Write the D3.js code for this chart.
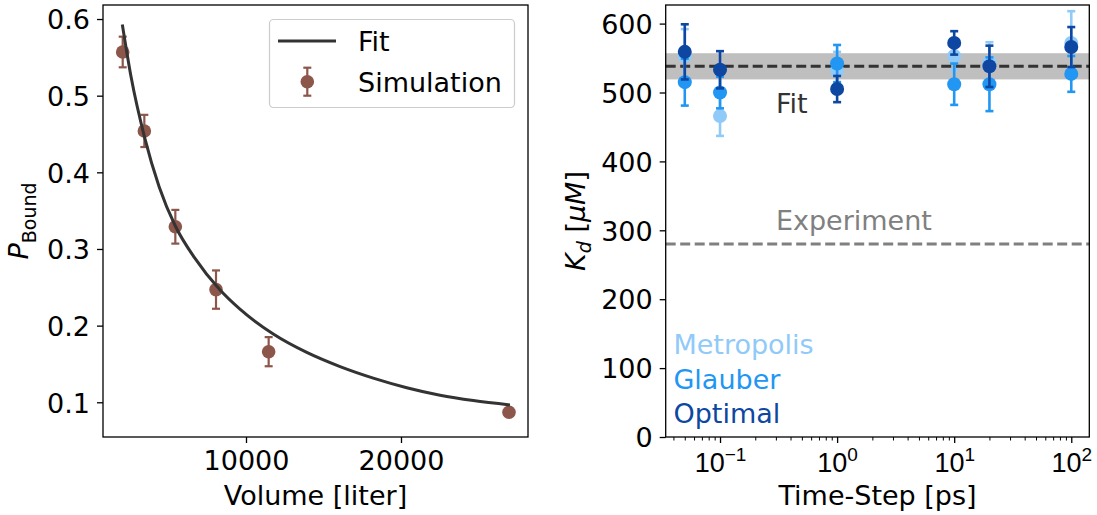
<!DOCTYPE html>
<html>
<head>
<meta charset="utf-8">
<script src="https://cdn.jsdelivr.net/npm/d3@7"></script>
<style>
  html, body { margin: 0; padding: 0; background: #fff; }
  svg { display: block; font-family: "DejaVu Sans", sans-serif; }
</style>
</head>
<body>
<svg id="chart" width="1097" height="515"></svg>
<script>
// ---- Left panel: binding probability vs. simulation volume ----
const volume     = [2045, 3441, 5441, 8065, 11462, 26968];
const pBound     = [0.557, 0.454, 0.329, 0.247, 0.166, 0.087];
const pBoundErr  = [0.020, 0.021, 0.022, 0.025, 0.019, 0.004];
const fitVolume  = [2020, 2600, 3440, 4400, 5440, 6700, 8300, 9610, 11760, 13920, 16070, 18210, 20370, 22520, 24670, 27030];
const fitPBound  = [0.593, 0.523, 0.447, 0.381, 0.330, 0.288, 0.247, 0.2214, 0.189, 0.165, 0.1465, 0.1315, 0.119, 0.1092, 0.1022, 0.0965];
const volumeTicks = [10000, 20000];
const pBoundTicks = [0.1, 0.2, 0.3, 0.4, 0.5, 0.6];

// ---- Right panel: dissociation constant vs. time step ----
const timeStep      = [0.05, 0.1, 1, 10, 20, 100];
const metropolisKd  = [553, 466, 532, 553, 544, 572];
const metropolisErr = [39, 29, 27, 20, 29, 46];
const glauberKd     = [515, 500, 542, 512, 512, 527];
const glauberErr    = [34, 23, 27, 30, 39, 26];
const optimalKd     = [559, 533, 505, 572, 538, 566];
const optimalErr    = [40, 27, 19, 17, 30, 29];
const kdFit = 538, kdFitErr = 19, kdExperiment = 280;
const kdTicks = [0, 100, 200, 300, 400, 500, 600];
const timeTicks = [0.1, 1, 10, 100];
const timeTickExp = ["\u22121", "0", "1", "2"];

const FS = 27, FS_SMALL = 19;
const svg = d3.select("#chart");

function frame(g, x0, x1, y0, y1) {
  g.append("rect").attr("x", x0).attr("y", y0)
    .attr("width", x1 - x0).attr("height", y1 - y0)
    .attr("fill", "none").attr("stroke", "#000").attr("stroke-width", 1.3);
}

function styleAxis(sel) {
  sel.select(".domain").remove();
  sel.selectAll(".tick line").attr("stroke", "#000").attr("stroke-width", 1.3);
  sel.selectAll(".tick text").attr("fill", "#000")
    .style("font-size", FS + "px").style("font-family", "DejaVu Sans");
}

function errorBars(g, xs, ys, es, x, y, color, cap, width) {
  const rows = xs.map((v, i) => ({ x: v, y: ys[i], e: es[i] }));
  const eb = g.append("g").attr("stroke", color).attr("stroke-width", width);
  eb.selectAll("line.v").data(rows).join("line").attr("class", "v")
    .attr("x1", d => x(d.x)).attr("x2", d => x(d.x))
    .attr("y1", d => y(d.y - d.e)).attr("y2", d => y(d.y + d.e));
  ["lo", "hi"].forEach(k => {
    eb.selectAll("line." + k).data(rows).join("line").attr("class", k)
      .attr("x1", d => x(d.x) - cap).attr("x2", d => x(d.x) + cap)
      .attr("y1", d => y(k === "lo" ? d.y - d.e : d.y + d.e))
      .attr("y2", d => y(k === "lo" ? d.y - d.e : d.y + d.e));
  });
  return rows;
}

// ================= Left panel =================
{
  const L = { x0: 103, x1: 528, y0: 5, y1: 437 };
  const x = d3.scaleLinear().domain([774, 28194]).range([L.x0, L.x1]);
  const y = d3.scaleLinear().domain([0.0547, 0.6183]).range([L.y1, L.y0]);
  const g = svg.append("g");
  const brown = "#8c564b";

  g.append("g").attr("transform", `translate(0,${L.y1})`)
    .call(d3.axisBottom(x).tickValues(volumeTicks).tickSize(6).tickPadding(8)
      .tickFormat(d3.format("d")))
    .call(styleAxis);
  g.append("g").attr("transform", `translate(${L.x0},0)`)
    .call(d3.axisLeft(y).tickValues(pBoundTicks).tickSize(6).tickPadding(7)
      .tickFormat(d3.format(".1f")))
    .call(styleAxis)
    .selectAll(".tick text").attr("dy", "0.36em");

  const rows = errorBars(g, volume, pBound, pBoundErr, x, y, brown, 4, 2.2);
  g.append("g").selectAll("circle").data(rows).join("circle")
    .attr("cx", d => x(d.x)).attr("cy", d => y(d.y)).attr("r", 6.8)
    .attr("fill", brown);

  const fitLine = d3.line().x(d => x(d[0])).y(d => y(d[1])).curve(d3.curveMonotoneX);
  g.append("path").datum(fitVolume.map((v, i) => [v, fitPBound[i]]))
    .attr("d", fitLine).attr("fill", "none").attr("stroke", "#333").attr("stroke-width", 3);

  frame(g, L.x0, L.x1, L.y0, L.y1);

  // legend
  const lg = g.append("g");
  lg.append("rect").attr("x", 269.5).attr("y", 19.5).attr("width", 245).attr("height", 88)
    .attr("rx", 4).attr("fill", "#fff").attr("fill-opacity", 0.8)
    .attr("stroke", "#cccccc").attr("stroke-width", 1.2);
  lg.append("line").attr("x1", 278).attr("x2", 336).attr("y1", 41).attr("y2", 41)
    .attr("stroke", "#333").attr("stroke-width", 3);
  lg.append("text").attr("x", 358).attr("y", 50.5).style("font-size", FS + "px").text("Fit");
  lg.append("line").attr("x1", 307.3).attr("x2", 307.3).attr("y1", 67.7).attr("y2", 95.7)
    .attr("stroke", brown).attr("stroke-width", 2.2);
  [67.7, 95.7].forEach(v => lg.append("line").attr("x1", 303.3).attr("x2", 311.3)
    .attr("y1", v).attr("y2", v).attr("stroke", brown).attr("stroke-width", 2.2));
  lg.append("circle").attr("cx", 307.3).attr("cy", 81.7).attr("r", 6.8).attr("fill", brown);
  lg.append("text").attr("x", 358).attr("y", 91.5).style("font-size", FS + "px").text("Simulation");

  // axis labels
  g.append("text").attr("x", (L.x0 + L.x1) / 2).attr("y", 505)
    .attr("text-anchor", "middle").style("font-size", FS + "px").text("Volume [liter]");
  const yl = g.append("text").attr("transform", `translate(28,${(L.y0 + L.y1) / 2}) rotate(-90)`)
    .attr("text-anchor", "middle").style("font-size", FS + "px");
  yl.append("tspan").attr("font-style", "italic").text("P");
  yl.append("tspan").attr("dy", 8).style("font-size", FS_SMALL + "px").text("Bound");
}

// ================= Right panel =================
{
  const R = { x0: 665.7, x1: 1089.3, y0: 5, y1: 437 };
  const x = d3.scaleLog().domain([Math.pow(10, -1.464), Math.pow(10, 2.154)]).range([R.x0, R.x1]);
  const y = d3.scaleLinear().domain([0, 627]).range([R.y1, R.y0]);
  const g = svg.append("g");

  // minor log ticks
  const minor = [];
  for (let e = -2; e <= 2; e++) for (let k = 2; k <= 9; k++) {
    const v = k * Math.pow(10, e);
    if (v >= x.domain()[0] && v <= x.domain()[1]) minor.push(v);
  }
  g.append("g").attr("transform", `translate(0,${R.y1})`)
    .call(d3.axisBottom(x).tickValues(minor).tickSize(3.5).tickFormat(""))
    .call(styleAxis)
    .selectAll(".tick line").attr("stroke-width", 1);
  const xa = g.append("g").attr("transform", `translate(0,${R.y1})`)
    .call(d3.axisBottom(x).tickValues(timeTicks).tickSize(6).tickFormat(""))
    .call(styleAxis);
  xa.selectAll(".tick").each(function (d, i) {
    const t = d3.select(this).append("text").attr("y", 34.7).attr("fill", "#000")
      .attr("text-anchor", "middle").style("font-size", FS + "px");
    t.append("tspan").text("10");
    t.append("tspan").attr("dy", -10.5).style("font-size", FS_SMALL + "px").text(timeTickExp[i]);
  });

  g.append("g").attr("transform", `translate(${R.x0},0)`)
    .call(d3.axisLeft(y).tickValues(kdTicks).tickSize(6).tickPadding(7).tickFormat(d3.format("d")))
    .call(styleAxis)
    .selectAll(".tick text").attr("dy", "0.36em");

  // fit band and reference lines
  g.append("rect").attr("x", R.x0).attr("width", R.x1 - R.x0)
    .attr("y", y(kdFit + kdFitErr)).attr("height", y(kdFit - kdFitErr) - y(kdFit + kdFitErr))
    .attr("fill", "#bfbfbf");
  g.append("line").attr("x1", R.x0).attr("x2", R.x1).attr("y1", y(kdFit)).attr("y2", y(kdFit))
    .attr("stroke", "#333").attr("stroke-width", 3).attr("stroke-dasharray", "10,4.5");
  g.append("line").attr("x1", R.x0).attr("x2", R.x1).attr("y1", y(kdExperiment)).attr("y2", y(kdExperiment))
    .attr("stroke", "#808080").attr("stroke-width", 3).attr("stroke-dasharray", "10,4.5");

  const series = [
    { name: "Metropolis", kd: metropolisKd, err: metropolisErr, color: "#90caf9", ly: 120 },
    { name: "Glauber",    kd: glauberKd,    err: glauberErr,    color: "#2196f3", ly: 70 },
    { name: "Optimal",    kd: optimalKd,    err: optimalErr,    color: "#0d47a1", ly: 20 }
  ];
  series.forEach(s => {
    const sg = g.append("g");
    const rows = errorBars(sg, timeStep, s.kd, s.err, x, y, s.color, 4, 2.6);
    sg.selectAll("circle").data(rows).join("circle")
      .attr("cx", d => x(d.x)).attr("cy", d => y(d.y)).attr("r", 7).attr("fill", s.color);
  });

  g.append("text").attr("x", x(0.3)).attr("y", y(470)).attr("fill", "#333")
    .style("font-size", FS + "px").text("Fit");
  g.append("text").attr("x", x(0.3)).attr("y", y(300)).attr("fill", "#808080")
    .style("font-size", FS + "px").text("Experiment");
  series.forEach(s => {
    g.append("text").attr("x", x(0.04)).attr("y", y(s.ly)).attr("fill", s.color)
      .style("font-size", FS + "px").text(s.name);
  });

  frame(g, R.x0, R.x1, R.y0, R.y1);

  g.append("text").attr("x", (R.x0 + R.x1) / 2).attr("y", 505)
    .attr("text-anchor", "middle").style("font-size", FS + "px").text("Time-Step [ps]");
  const yl = g.append("text").attr("transform", `translate(585,${(R.y0 + R.y1) / 2}) rotate(-90)`)
    .attr("text-anchor", "middle").style("font-size", FS + "px");
  yl.append("tspan").attr("font-style", "italic").text("K");
  yl.append("tspan").attr("dy", 6).attr("font-style", "italic").style("font-size", FS_SMALL + "px").text("d");
  yl.append("tspan").attr("dy", -6).text(" [");
  yl.append("tspan").attr("font-style", "italic").text("\u03bcM");
  yl.append("tspan").text("]");
}
</script>
</body>
</html>
